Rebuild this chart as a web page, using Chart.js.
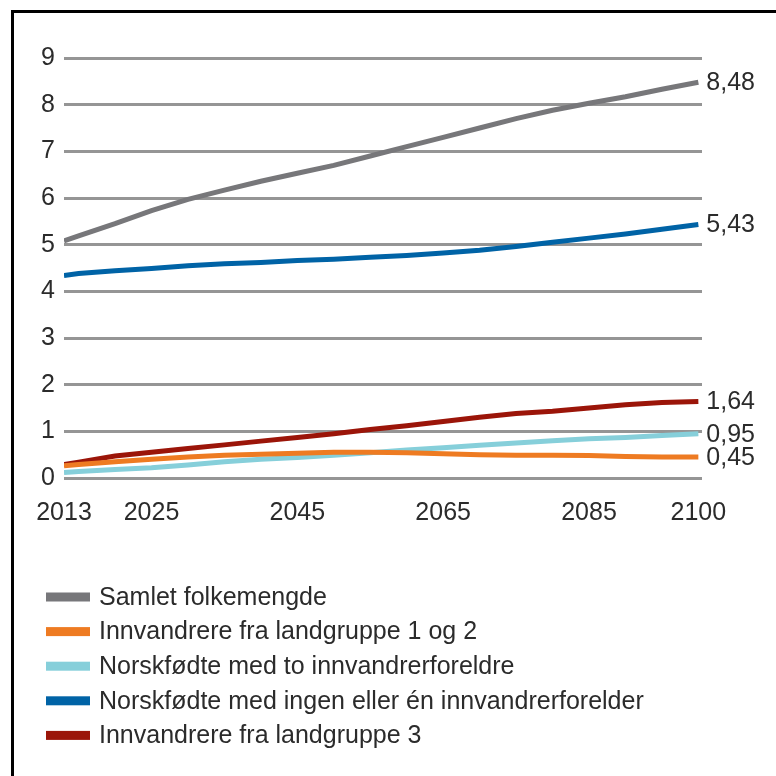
<!DOCTYPE html>
<html>
<head>
<meta charset="utf-8">
<script src="https://cdn.jsdelivr.net/npm/chart.js@4/dist/chart.umd.min.js"></script>
<style>
  html, body { margin: 0; padding: 0; background: #ffffff; }
  #wrap { position: relative; width: 776px; height: 776px; }
  canvas { display: block; }
</style>
</head>
<body>
<div id="wrap"><canvas id="c" width="776" height="776"></canvas></div>
<script>
// ---- data (millions of persons) ----
const years = [2013, 2015, 2020, 2025, 2030, 2035, 2040, 2045, 2050, 2055, 2060, 2065, 2070, 2075, 2080, 2085, 2090, 2095, 2100];
const samletFolkemengde = [5.08, 5.19, 5.45, 5.73, 5.97, 6.17, 6.36, 6.53, 6.70, 6.90, 7.10, 7.30, 7.50, 7.70, 7.88, 8.03, 8.17, 8.33, 8.48];
const landgruppe12 = [0.26, 0.29, 0.35, 0.40, 0.45, 0.49, 0.51, 0.53, 0.55, 0.55, 0.54, 0.52, 0.50, 0.49, 0.49, 0.48, 0.46, 0.45, 0.45];
const toInnvandrerforeldre = [0.12, 0.14, 0.18, 0.22, 0.28, 0.35, 0.40, 0.44, 0.49, 0.54, 0.60, 0.65, 0.70, 0.75, 0.80, 0.84, 0.87, 0.91, 0.95];
const ingenEllerEn = [4.34, 4.38, 4.44, 4.49, 4.55, 4.59, 4.62, 4.66, 4.69, 4.73, 4.77, 4.82, 4.88, 4.96, 5.05, 5.14, 5.23, 5.33, 5.43];
const landgruppe3 = [0.29, 0.34, 0.47, 0.55, 0.63, 0.71, 0.79, 0.87, 0.95, 1.04, 1.12, 1.21, 1.30, 1.38, 1.43, 1.50, 1.57, 1.62, 1.64];

const seriesLabels = [
  "Samlet folkemengde",
  "Innvandrere fra landgruppe 1 og 2",
  "Norskfødte med to innvandrerforeldre",
  "Norskfødte med ingen eller én innvandrerforelder",
  "Innvandrere fra landgruppe 3"
];
const xTickYears = [2013, 2025, 2045, 2065, 2085, 2100];
const yMin = 0, yMax = 9;

const FONT = '"Liberation Sans", Arial, Helvetica, sans-serif';
const TEXT = '#2b2b2b';

const seriesValues = [samletFolkemengde, landgruppe12, toInnvandrerforeldre, ingenEllerEn, landgruppe3];
const seriesColors = ['#77777a', '#ee7b22', '#86cfda', '#0063a6', '#9b1509'];
const drawOrder = [1, 2, 3, 4, 5];

const datasets = seriesValues.map((vals, i) => ({
  label: seriesLabels[i],
  data: vals.map((v, k) => ({ x: years[k], y: v })),
  borderColor: seriesColors[i],
  backgroundColor: seriesColors[i],
  borderWidth: 5,
  pointRadius: 0,
  tension: 0,
  fill: false,
  order: drawOrder[i]
}));

const framePlugin = {
  id: 'frame',
  beforeDraw(chart) {
    const ctx = chart.ctx;
    ctx.save();
    ctx.fillStyle = '#ffffff';
    ctx.fillRect(0, 0, chart.width, chart.height);
    ctx.fillStyle = '#000000';
    ctx.fillRect(11, 10, chart.width - 11, 3);
    ctx.fillRect(11, 10, 3, chart.height - 10);
    ctx.restore();
  }
};

const endLabelPlugin = {
  id: 'endLabels',
  afterDatasetsDraw(chart) {
    const ctx = chart.ctx;
    ctx.save();
    ctx.font = '25px ' + FONT;
    ctx.fillStyle = TEXT;
    ctx.textAlign = 'left';
    ctx.textBaseline = 'middle';
    chart.data.datasets.forEach((ds, i) => {
      const meta = chart.getDatasetMeta(i);
      const pt = meta.data[meta.data.length - 1];
      const v = ds.data[ds.data.length - 1].y;
      ctx.fillText(v.toFixed(2).replace('.', ','), pt.x + 8, pt.y + 1);
    });
    ctx.restore();
  }
};

const rowLegendPlugin = {
  id: 'rowLegend',
  afterDraw(chart) {
    const ctx = chart.ctx;
    ctx.save();
    ctx.font = '25px ' + FONT;
    ctx.textAlign = 'left';
    ctx.textBaseline = 'middle';
    chart.data.datasets.forEach((ds, i) => {
      const y = 597 + i * 34.6;
      ctx.fillStyle = ds.borderColor;
      ctx.fillRect(46, y - 4.5, 44, 9);
      ctx.fillStyle = TEXT;
      ctx.fillText(ds.label, 99, y + 1);
    });
    ctx.restore();
  }
};

new Chart(document.getElementById('c'), {
  type: 'line',
  data: { datasets },
  options: {
    responsive: false,
    animation: false,
    devicePixelRatio: 1,
    layout: { padding: { top: 58, right: 74, bottom: 0, left: 0 } },
    plugins: {
      legend: { display: false },
      tooltip: { enabled: false }
    },
    scales: {
      x: {
        type: 'linear',
        min: 2013,
        max: 2100.5,
        grid: { display: false, drawTicks: false },
        border: { display: false },
        afterBuildTicks(scale) {
          scale.ticks = xTickYears.map(v => ({ value: v }));
        },
        afterFit(scale) { scale.height = 298; },
        ticks: {
          autoSkip: false,
          maxRotation: 0,
          padding: 20,
          color: TEXT,
          font: { family: FONT, size: 25 },
          callback: (v) => String(v)
        }
      },
      y: {
        min: yMin,
        max: yMax,
        grid: { color: '#959595', lineWidth: 3, drawTicks: false },
        border: { display: false },
        afterFit(scale) { scale.width = 64; },
        ticks: {
          stepSize: 1,
          padding: 9,
          color: TEXT,
          font: { family: FONT, size: 25 }
        }
      }
    }
  },
  plugins: [framePlugin, endLabelPlugin, rowLegendPlugin]
});
</script>
</body>
</html>
